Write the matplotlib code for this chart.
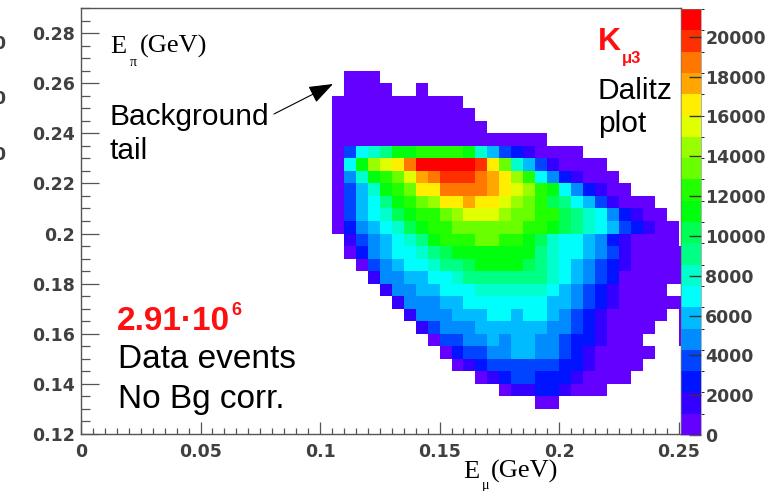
import colorsys
import matplotlib.pyplot as plt
import numpy as np
from matplotlib.colors import ListedColormap, BoundaryNorm

# Dalitz plot binning: 5 MeV bins, first bin edges (GeV)
e_mu_start = 0.105
e_pi_start = 0.130
bin_w = 0.005

# colour band (0..19) of each bin; top row is
# E_pi 0.260-0.265, first column is E_mu 0.105-0.110, '.' = empty bin
bands = [
    ".000..........................",
    ".0000..0......................",
    "00000000000...................",
    "000000000000..................",
    "0000000000000.................",
    "000000000000000000............",
    "03678aabbbba753210000.........",
    "06adefhjjjjjifc75310000.......",
    "047abceghiiihgfdb6421000......",
    "0357abcffhhhhgfedba642100.....",
    "03568abcdffgffedcb986531000...",
    "035679abbcdeeedccbb987642100..",
    "0245679abbccccccbba9876532100.",
    ".1345678abbbccbba976654210000.",
    ".024566789aaaaaaa8766543100000",
    "..0345667889aaaa98765432100000",
    "...144556678888888765432000000",
    "....144556667777776543210000..",
    ".....1444556666666554321000000",
    "......1444555665665432100000.0",
    ".......13444555555443210000..0",
    "........033445455443221000...0",
    ".........023344554432100000...",
    "..........0123333332210000....",
    "............0123322210000.....",
    "..............011221000.......",
    ".................00...........",
]
z_max = 21400
n_levels = 20

x_ticks = [0, 0.05, 0.1, 0.15, 0.2, 0.25]
x_labels = ['0', '0.05', '0.1', '0.15', '0.2', '0.25']
y_ticks = [0.12, 0.14, 0.16, 0.18, 0.2, 0.22, 0.24, 0.26, 0.28]
y_labels = ['0.12', '0.14', '0.16', '0.18', '0.2', '0.22', '0.24', '0.26', '0.28']
z_ticks = list(range(0, 20001, 2000))

# decode the band table into bin contents (band centre)
codes = '0123456789abcdefghij'
n_cols = max(len(r) for r in bands)
grid = np.full((len(bands), n_cols), np.nan)
for j, row in enumerate(bands):
    for k, ch in enumerate(row):
        if ch != '.':
            grid[j, k] = (codes.index(ch) + 0.5) * z_max / n_levels
grid = np.ma.masked_invalid(grid[::-1])
x_edges = e_mu_start + bin_w * np.arange(grid.shape[1] + 1)
y_edges = e_pi_start + bin_w * np.arange(grid.shape[0] + 1)


# ROOT "pretty" palette (50 colours) sampled for 20 contours
def root_colors(n):
    cols = []
    for c in range(n):
        idx = int((c + 0.99) * 50 / n)
        if idx >= 49:
            cols.append((1.0, 0.0, 0.0))
        else:
            hue = 280 - (idx + 1) * 5.6
            cols.append(colorsys.hls_to_rgb(hue / 360, 0.5, 1.0))
    return cols


cmap = ListedColormap(root_colors(n_levels))
norm = BoundaryNorm(np.linspace(0, z_max, n_levels + 1), n_levels)

W, H = 773, 491
fig = plt.figure(figsize=(W / 100, H / 100), dpi=100)
fig.patch.set_facecolor('white')


def box(x0, y0, x1, y1):
    return [x0 / W, 1 - y1 / H, (x1 - x0) / W, (y1 - y0) / H]


def fpos(x, y):
    return x / W, 1 - y / H


ax = fig.add_axes(box(81, 8, 681, 434))
cax = fig.add_axes(box(681, 9, 701, 435))

mesh = ax.pcolormesh(x_edges, y_edges, grid, cmap=cmap, norm=norm)
ax.set_xlim(0, 0.251)
ax.set_ylim(0.12, 0.29)

tick_col = '#404040'
tick_font = dict(family='DejaVu Sans', weight='bold', size=12.5)
ax.set_xticks(x_ticks)
ax.set_xticklabels(x_labels, **tick_font, color=tick_col)
ax.set_yticks(y_ticks)
ax.set_yticklabels(y_labels, **tick_font, color=tick_col)
ax.set_xticks(np.arange(0, 0.2501, 0.005), minor=True)
ax.set_yticks(np.arange(0.12, 0.2901, 0.005), minor=True)
ax.tick_params(axis='x', which='major', direction='in', length=8.5, width=0.9,
               color='#555555', pad=6.5)
ax.tick_params(axis='x', which='minor', direction='in', length=4.3, width=0.9,
               color='#555555')
ax.tick_params(axis='y', which='major', direction='in', length=13, width=0.9,
               color='#555555', pad=4.3)
ax.tick_params(axis='y', which='minor', direction='in', length=6.5, width=0.9,
               color='#555555')
for s in ax.spines.values():
    s.set_color('#555555')
    s.set_linewidth(1.0)

cb = fig.colorbar(mesh, cax=cax, ticks=z_ticks)
cb.outline.set_linewidth(0.4)
cb.outline.set_edgecolor('#777777')
cax.tick_params(direction='in', length=9, width=1.0, color='#333333', pad=3)
cax.set_yticklabels([str(t) for t in z_ticks], **tick_font, color=tick_col)

# axis titles
serif = 'Liberation Serif'
fig.text(*fpos(110, 53), 'E', family=serif, fontsize=19, va='baseline')
fig.text(*fpos(130, 66), 'π', family=serif, fontsize=10, va='baseline')
fig.text(*fpos(140, 53), '(GeV)', family=serif, fontsize=19, va='baseline')
fig.text(*fpos(463, 478), 'E', family=serif, fontsize=19, va='baseline')
fig.text(*fpos(482, 489), 'μ', family=serif, fontsize=10, va='baseline')
fig.text(*fpos(491, 478), '(GeV)', family=serif, fontsize=19, va='baseline')

# annotations
sans = 'Liberation Sans'
fig.text(*fpos(110, 125), 'Background', family=sans, fontsize=21.5, va='baseline')
fig.text(*fpos(110, 159), 'tail', family=sans, fontsize=21.5, va='baseline')
ax.annotate('', xy=(333, H - 84), xycoords='figure pixels',
            xytext=(274, H - 114), textcoords='figure pixels',
            arrowprops=dict(arrowstyle='-|>,head_length=1.5,head_width=0.55',
                            color='black', lw=0.8, shrinkA=0, shrinkB=0))

red = '#ff1010'
num = fig.text(*fpos(117, 330), '2.91·10', family=sans, weight='bold',
               fontsize=24, color=red, va='baseline')
fig.canvas.draw()
x_end = num.get_window_extent().x1
fig.text((x_end + 1) / W, 1 - 315 / H, '6', family=sans, weight='bold',
         fontsize=13, color=red, va='baseline')
fig.text(*fpos(118, 368), 'Data events', family=sans, fontsize=24, va='baseline')
fig.text(*fpos(118, 408), 'No Bg corr.', family=sans, fontsize=24, va='baseline')

fig.text(*fpos(598, 50), 'K', family=sans, weight='bold', fontsize=23,
         color=red, va='baseline')
fig.text(*fpos(622, 63), 'μ3', family=sans, weight='bold', fontsize=12,
         color=red, va='baseline')
fig.text(*fpos(598, 99), 'Dalitz', family=sans, fontsize=21.5, va='baseline')
fig.text(*fpos(598, 132), 'plot', family=sans, fontsize=21.5, va='baseline')

# clipped labels of a neighbouring plot at the left edge
for yy in (49, 104, 160):
    fig.text(*fpos(-7, yy), '0', **tick_font, color=tick_col, va='baseline')

fig.savefig('out.png', dpi=100)
